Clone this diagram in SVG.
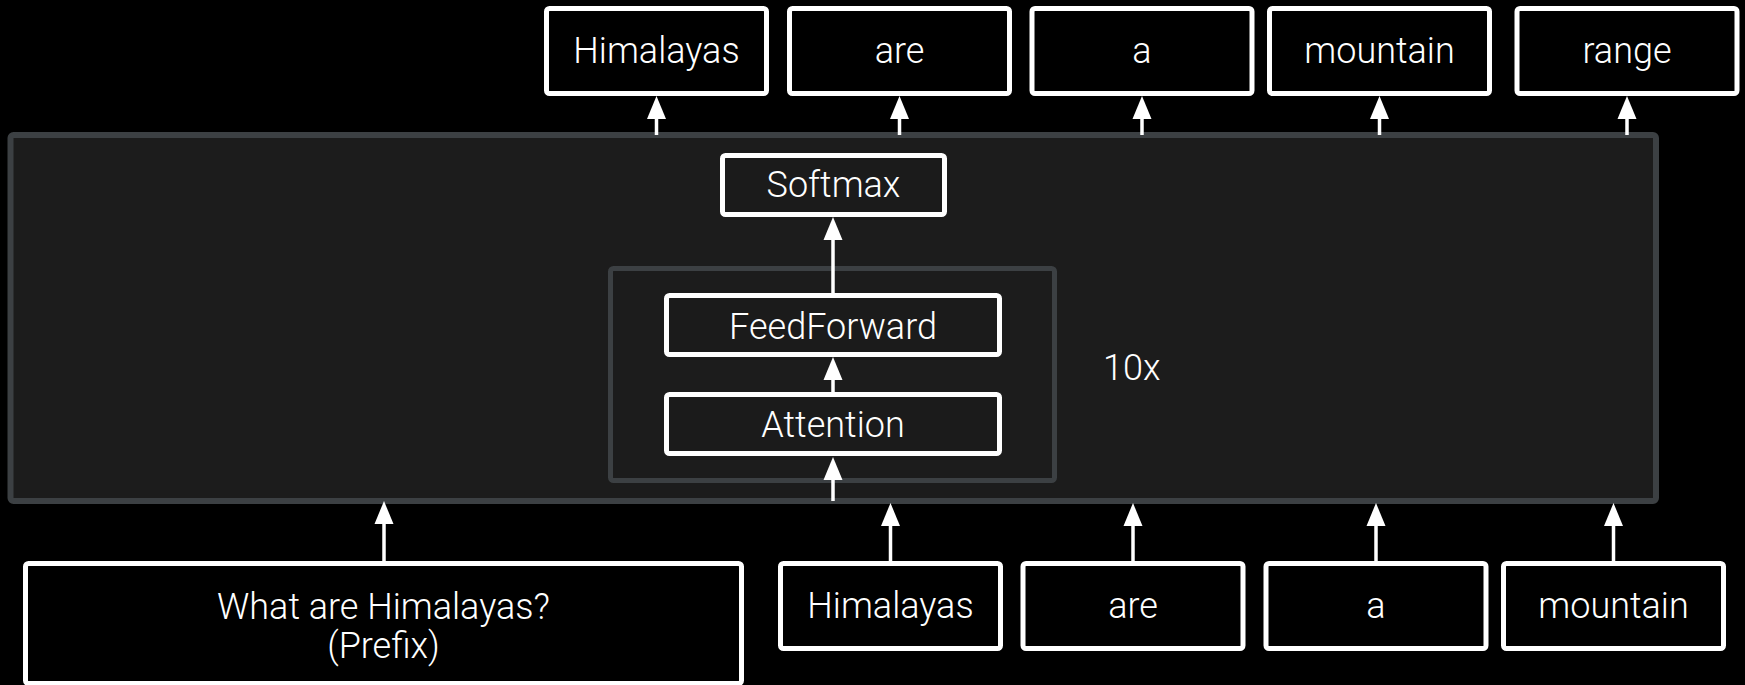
<svg xmlns="http://www.w3.org/2000/svg" width="1745" height="685" viewBox="0 0 1745 685">
  <style>
    .bg { fill: #000000; }
    .outer { fill: #1c1c1c; stroke: #3c4043; stroke-width: 6; }
    .inner { fill: #1c1c1c; stroke: #3c4043; stroke-width: 5; }
    .tok { fill: #000000; stroke: #ffffff; stroke-width: 5; }
    .blk { fill: #1b1b1b; stroke: #ffffff; stroke-width: 5; }
    text { font-family: Roboto, "Liberation Sans", sans-serif; font-size: 36px; font-weight: 300; fill: #ffffff; text-anchor: middle; }
    .conn line { stroke: #ffffff; stroke-width: 3.5; marker-end: url(#ah); }
  </style>
  <defs>
    <marker id="ah" markerUnits="userSpaceOnUse" markerWidth="23" markerHeight="19" refX="0" refY="9.5" orient="auto" overflow="visible">
      <path d="M0,0 L23,9.5 L0,19 Z" fill="#ffffff"/>
    </marker>
  </defs>
  <rect class="bg" x="0" y="0" width="1745" height="685"/>

  <g id="decoder">
    <rect class="outer" x="10.5" y="135" width="1645.5" height="366" rx="3"/>
    <text x="1103" y="380" style="text-anchor:start">10x</text>
  </g>
  <g id="layer-stack">
    <rect class="inner" x="610.5" y="268.5" width="444" height="212" rx="3"/>
  </g>
  <g id="softmax">
    <rect class="blk" x="722.5" y="155.5" width="222" height="59" rx="3"/>
    <text x="833.5" y="197">Softmax</text>
  </g>
  <g id="feedforward">
    <rect class="blk" x="666.5" y="295.5" width="333" height="59" rx="3"/>
    <text x="833" y="339">FeedForward</text>
  </g>
  <g id="attention">
    <rect class="blk" x="666.5" y="394.5" width="333" height="59" rx="3"/>
    <text x="833" y="437">Attention</text>
  </g>

  <g id="out-himalayas">
    <rect class="tok" x="546.5" y="8.5" width="220" height="85" rx="3"/>
    <text x="656.5" y="63">Himalayas</text>
  </g>
  <g id="out-are">
    <rect class="tok" x="789.5" y="8.5" width="220" height="85" rx="3"/>
    <text x="899.5" y="63">are</text>
  </g>
  <g id="out-a">
    <rect class="tok" x="1032" y="8.5" width="220" height="85" rx="3"/>
    <text x="1142" y="63">a</text>
  </g>
  <g id="out-mountain">
    <rect class="tok" x="1269.5" y="8.5" width="220" height="85" rx="3"/>
    <text x="1379.5" y="63">mountain</text>
  </g>
  <g id="out-range">
    <rect class="tok" x="1517" y="8.5" width="220" height="85" rx="3"/>
    <text x="1627" y="63">range</text>
  </g>

  <g id="in-prefix">
    <rect class="tok" x="25.5" y="563.5" width="716" height="120" rx="3"/>
    <text x="383.5" y="619">What are Himalayas?</text>
    <text x="383.5" y="658">(Prefix)</text>
  </g>
  <g id="in-himalayas">
    <rect class="tok" x="780.5" y="563.5" width="220" height="85" rx="3"/>
    <text x="890.5" y="618">Himalayas</text>
  </g>
  <g id="in-are">
    <rect class="tok" x="1023" y="563.5" width="220" height="85" rx="3"/>
    <text x="1133" y="618">are</text>
  </g>
  <g id="in-a">
    <rect class="tok" x="1266" y="563.5" width="220" height="85" rx="3"/>
    <text x="1376" y="618">a</text>
  </g>
  <g id="in-mountain">
    <rect class="tok" x="1503.5" y="563.5" width="220" height="85" rx="3"/>
    <text x="1613.5" y="618">mountain</text>
  </g>

  <g id="connectors" class="conn">
    <line x1="656.5" y1="135" x2="656.5" y2="119"/>
    <line x1="899.5" y1="135" x2="899.5" y2="119"/>
    <line x1="1142" y1="135" x2="1142" y2="119"/>
    <line x1="1379.5" y1="135" x2="1379.5" y2="119"/>
    <line x1="1627" y1="135" x2="1627" y2="119"/>
    <line x1="833" y1="293" x2="833" y2="240"/>
    <line x1="833" y1="392" x2="833" y2="380"/>
    <line x1="833" y1="501" x2="833" y2="480"/>
    <line x1="384" y1="561" x2="384" y2="524"/>
    <line x1="890.5" y1="561" x2="890.5" y2="526"/>
    <line x1="1133" y1="561" x2="1133" y2="526"/>
    <line x1="1376" y1="561" x2="1376" y2="526"/>
    <line x1="1613.5" y1="561" x2="1613.5" y2="526"/>
  </g>
</svg>
